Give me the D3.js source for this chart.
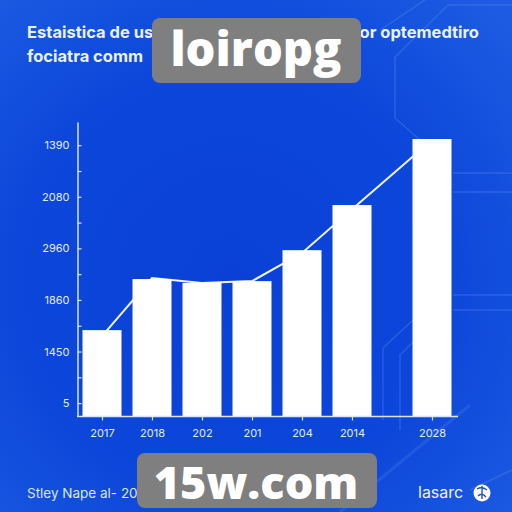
<!DOCTYPE html>
<html><head><meta charset="utf-8">
<script src="https://cdn.jsdelivr.net/npm/d3@7"></script>
<style>body{margin:0;background:#0b44da}svg{display:block}</style>
</head><body>
<svg id="c" width="512" height="512"></svg>
<script>
const categories = ["2017", "2018", "202", "201", "204", "2014", "2028"];
const slots = [0, 1, 2, 3, 4, 5, 6.6];
const barValues = [3.33, 5.31, 5.16, 5.23, 6.43, 8.18, 10.74];
const lineValues = [3.1, 5.35, 5.16, 5.23, 6.32, 8.02, 10.7];
const yTickValues = [0.5, 1.5, 2.5, 3.5, 4.5, 5.5, 6.5, 7.5, 8.5, 9.5, 10.5];
const yTickLabels = ["5", "", "1450", "", "1860", "", "2960", "", "2080", "", "1390"];
const titleLeft = ["Estaistica de us", "fociatra comm"];
const titleRight = "or optemedtiro";
const footerLeft = "Stley Nape al- 20";
const footerRight = "lasarc";
const watermarks = ["loiropg", "15w.com"];

const svg = d3.select("#c");
const defs = svg.append("defs");
const rg = defs.append("radialGradient").attr("id", "bg")
  .attr("cx", "45%").attr("cy", "55%").attr("r", "75%");
rg.append("stop").attr("offset", "0%").attr("stop-color", "#0a40d6");
rg.append("stop").attr("offset", "55%").attr("stop-color", "#0c46da");
rg.append("stop").attr("offset", "100%").attr("stop-color", "#1d5ce2");
svg.append("rect").attr("width", 512).attr("height", 512).attr("fill", "url(#bg)");

// circuit decoration
const deco = svg.append("g").attr("fill", "none")
  .attr("stroke", "#5d8cf2").attr("stroke-opacity", 0.35).attr("stroke-width", 1.5);
[
  [[512,5],[448,5],[395,57],[395,118],[420,140]],
  [[425,0],[380,30]],
  [[453,173],[512,173]],
  [[453,192],[512,192]],
  [[453,295],[512,295]],
  [[453,310],[512,310]],
  [[413,320],[383,348],[383,420]],
  [[420,335],[400,355],[400,430]],
  [[470,490],[512,470]]
].forEach(p => deco.append("path").attr("d", d3.line()(p)));
svg.append("path").attr("d", d3.line()([[470,405],[340,512]]))
  .attr("stroke", "#6f9cf5").attr("stroke-opacity", 0.18).attr("stroke-width", 3);

const x = d3.scaleLinear().domain([0, 6.6]).range([102, 432]);
const y = d3.scaleLinear().domain([0, 11.4]).range([416, 122]);
const bw = 39;
const axisColor = "#d6e4ff";

// line behind bars
svg.append("path")
  .datum(lineValues)
  .attr("fill", "none").attr("stroke", "#eef4ff").attr("stroke-width", 2)
  .attr("d", d3.line().x((d, i) => x(slots[i])).y(d => y(d)));

svg.append("g").selectAll("rect").data(barValues).join("rect")
  .attr("x", (d, i) => x(slots[i]) - bw / 2)
  .attr("y", d => y(d))
  .attr("width", bw)
  .attr("height", d => y(0) - y(d))
  .attr("fill", "#ffffff");

// y axis
const ya = svg.append("g").attr("transform", "translate(77.5,0)")
  .call(d3.axisLeft(y).tickValues(yTickValues)
    .tickFormat((d, i) => yTickLabels[i]).tickSizeInner(-4).tickSizeOuter(0).tickPadding(8));
ya.select(".domain").attr("stroke", axisColor).attr("stroke-width", 1.5);
ya.selectAll(".tick line").attr("stroke", axisColor).attr("stroke-width", 1.2);
ya.selectAll(".tick text").attr("fill", "#e4ecff").attr("font-family", "Inter, sans-serif")
  .attr("font-size", 11);

// x axis
const xa = svg.append("g").attr("transform", "translate(0,416.5)")
  .call(d3.axisBottom(x).tickValues(slots)
    .tickFormat((d, i) => categories[i]).tickSizeInner(4).tickSizeOuter(0).tickPadding(9));
xa.select(".domain").remove();
xa.append("line").attr("x1", 77).attr("x2", 458).attr("stroke", axisColor).attr("stroke-width", 1.5);
xa.selectAll(".tick line").attr("stroke", axisColor).attr("stroke-width", 1.2);
xa.selectAll(".tick text").attr("fill", "#e4ecff").attr("font-family", "Inter, sans-serif")
  .attr("font-size", 11);

// title
const tf = "Inter, 'Open Sans', sans-serif";
titleLeft.forEach((t, i) => svg.append("text").attr("x", 27).attr("y", 38 + i * 24)
  .attr("fill", "#eaf2ff").attr("font-family", tf).attr("font-weight", 700)
  .attr("font-size", 16.5).text(t));
svg.append("text").attr("x", 479).attr("y", 38).attr("text-anchor", "end")
  .attr("fill", "#eaf2ff").attr("font-family", tf).attr("font-weight", 700)
  .attr("font-size", 16.5).text(titleRight);

// footer
svg.append("text").attr("x", 27).attr("y", 498).attr("fill", "#dbe6ff")
  .attr("font-family", tf).attr("font-size", 13.5).text(footerLeft);
svg.append("text").attr("x", 418).attr("y", 498).attr("fill", "#eef4ff")
  .attr("font-family", tf).attr("font-size", 16).text(footerRight);
svg.append("circle").attr("cx", 482).attr("cy", 493).attr("r", 8.5).attr("fill", "#ffffff");
svg.append("path").attr("d", "M477,489 Q482,486 487,490 M478,496 Q482,492 486,497 M482,486 L482,499")
  .attr("fill", "none").attr("stroke", "#1d4fcf").attr("stroke-width", 1.4);

// watermarks
const wm = [
  {x: 152, y: 18, w: 209, h: 65, tx: 256, ty: 66, fs: 47},
  {x: 137, y: 453, w: 240, h: 55, tx: 256, ty: 499, fs: 45}
];
wm.forEach((b, i) => {
  svg.append("rect").attr("x", b.x).attr("y", b.y).attr("width", b.w).attr("height", b.h)
    .attr("rx", 8).attr("fill", "#7f7f7f");
  svg.append("text").attr("x", b.tx).attr("y", b.ty).attr("text-anchor", "middle")
    .attr("fill", "#ffffff").attr("font-family", "'Open Sans', sans-serif").attr("font-weight", 800)
    .attr("font-size", b.fs).text(watermarks[i]);
});
</script>
</body></html>
